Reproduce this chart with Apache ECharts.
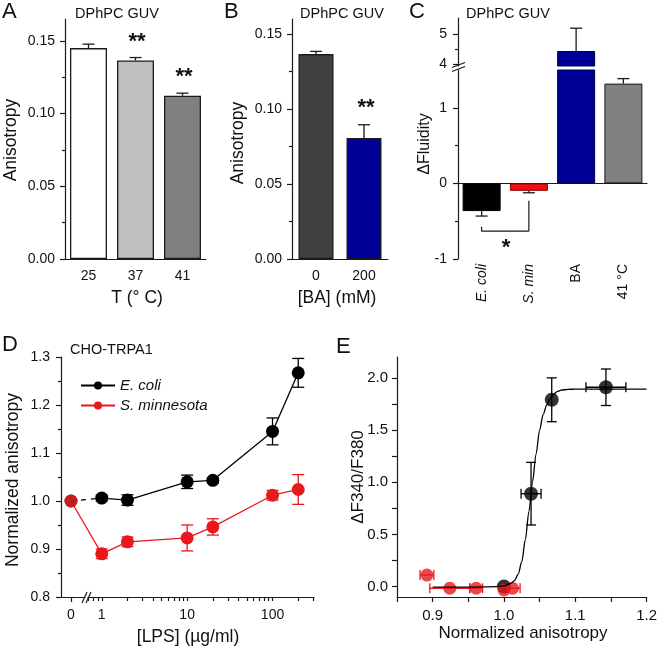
<!DOCTYPE html>
<html><head><meta charset="utf-8">
<script src="https://cdn.jsdelivr.net/npm/echarts@6/dist/echarts.min.js"></script>
<style>html,body{margin:0;padding:0;background:#fff}#c{width:660px;height:646px}</style>
</head><body><div id="c"></div>
<script>
// ---------- DATA ----------
// Panel A
const aCats = ['25', '37', '41'];
const aVals = [0.145, 0.1365, 0.1122];
const aErr = [0.0027, 0.002, 0.0018];
// Panel B
const bCats = ['0', '200'];
const bVals = [0.1366, 0.0806];
const bErr = [0.0018, 0.0089];
// Panel C
const cCats = ['E. coli', 'S. min', 'BA', '41 °C'];
const cVals = [-0.366, -0.098, 4.44, 1.32];
const cErr = [0.066, 0.026, 0.76, 0.066];
const bracketX = ['E. coli', 'E. coli', 'S. min', 'S. min'];
const bracketY = [-0.574, -0.631, -0.631, -0.23];
// Panel D
const lpsX = [1, 2, 10, 20, 100, 200];
const ecoli = [1.006, 1.002, 1.040, 1.043, 1.145, 1.267];
const ecoliErr = [0.006, 0.011, 0.014, 0.005, 0.028, 0.030];
const smin = [0.890, 0.915, 0.923, 0.946, 1.012, 1.024];
const sminErr = [0.010, 0.010, 0.027, 0.017, 0.010, 0.031];
const ecoliZero = 1.0;
const sminZero = 1.0;
// Panel E  [anisotropy, dF, xErr, yErr]
const eBlack = [[1.0, 0.0, 0, 0], [1.038, 0.89, 0.014, 0.30], [1.067, 1.79, 0, 0.21], [1.143, 1.91, 0.028, 0.175]];
const eRed = [[0.892, 0.11, 0.0097, 0], [0.924, -0.016, 0.028, 0], [0.961, -0.016, 0.009, 0], [1.0, -0.032, 0, 0], [1.012, -0.016, 0.0106, 0]];
const fitX = [0.9, 0.95, 0.99, 1.0, 1.01, 1.015, 1.02, 1.025, 1.03, 1.035, 1.04, 1.045, 1.05, 1.055, 1.06, 1.065, 1.07, 1.075, 1.08, 1.09, 1.1, 1.2];
const fitY = [-0.006, -0.005, 0.0, 0.008, 0.03, 0.06, 0.12, 0.24, 0.45, 0.72, 1.0, 1.27, 1.5, 1.65, 1.74, 1.80, 1.845, 1.87, 1.882, 1.89, 1.892, 1.892];
// tick labels
const aTicks = [0, 0.05, 0.1, 0.15], aMinor = [0.025, 0.075, 0.125];
const cUpTicks = [4, 5], cUpMinor = [4.5];
const cLoTicks = [-1, 0, 1], cLoMinor = [-0.5, 0.5];
const dYTicks = [0.8, 0.9, 1.0, 1.1, 1.2, 1.3], dYMinor = [0.85, 0.95, 1.05, 1.15, 1.25];
const dXTicks = [1, 10, 100], dXMinor = [0.7, 0.8, 0.9, 2, 3, 4, 5, 6, 7, 8, 9, 20, 30, 40, 50, 60, 70, 80, 90, 200, 300];
const eXTicks = [0.85, 0.9, 0.95, 1.0, 1.05, 1.1, 1.15, 1.2], eXLabels = [0.9, 1.0, 1.1, 1.2];
const eYTicks = [0, 0.25, 0.5, 0.75, 1.0, 1.25, 1.5, 1.75, 2.0], eYLabels = [0, 0.5, 1.0, 1.5, 2.0];

// ---------- STYLE ----------
const FONT = 'Arial, "Liberation Sans", Helvetica, sans-serif';
const AX = '#1a1a1a';
const TXT = '#111';
const RED = '#e8191e';

function axLine(show, onZero) { return { show: show, onZero: !!onZero, lineStyle: { color: AX, width: 1.2 } }; }
function valAxis(o) {
  return {
    type: o.type || 'value', gridIndex: o.g, min: o.min, max: o.max, position: o.pos || 'left',
    show: o.show === undefined ? true : o.show,
    axisLine: axLine(!o.noLine, false),
    axisTick: o.ticks ? { show: true, length: o.len || 5, inside: false, customValues: o.ticks, lineStyle: { color: AX, width: 1.2 } } : { show: false },
    axisLabel: o.labels ? { show: true, customValues: o.labels, formatter: o.fmt, margin: o.margin || 10, fontSize: o.fs || 14, color: TXT, fontFamily: FONT } : { show: false },
    splitLine: { show: false }, minorTick: { show: false }, minorSplitLine: { show: false }
  };
}
function catAxis(g, data, o) {
  o = o || {};
  return {
    type: 'category', gridIndex: g, data: data, position: 'bottom', show: o.show === undefined ? true : o.show,
    axisLine: axLine(!o.noLine, o.onZero), axisTick: { show: false },
    axisLabel: o.noLabel ? { show: false } : {
      show: true, margin: o.margin || 10, fontSize: 14, color: TXT, fontFamily: FONT, rotate: o.rotate || 0,
      formatter: o.rich ? (v => v.indexOf('.') >= 0 ? '{i|' + v + '}' : '{n|' + v + '}') : undefined,
      rich: o.rich ? { i: { fontStyle: 'italic', fontSize: 14, fontFamily: FONT, color: TXT }, n: { fontSize: 14, fontFamily: FONT, color: TXT } } : undefined
    },
    splitLine: { show: false }
  };
}
function seg(x1, y1, x2, y2, color, w) { return { type: 'line', shape: { x1, y1, x2, y2 }, style: { stroke: color, lineWidth: w || 1.3 } }; }
function errOne(color, cap) {
  return (params, api) => {
    const x = api.value(0), y = api.value(1), e = api.value(2);
    const a = api.coord([x, y]), b = api.coord([x, y + e]);
    return { type: 'group', children: [seg(a[0], a[1], b[0], b[1], color), seg(b[0] - cap, b[1], b[0] + cap, b[1], color)] };
  };
}
function errSym(color, cap) {
  return (params, api) => {
    const x = api.value(0), y = api.value(1), e = api.value(2);
    const a = api.coord([x, y - e]), b = api.coord([x, y + e]);
    return { type: 'group', children: [seg(a[0], a[1], b[0], b[1], color), seg(a[0] - cap, a[1], a[0] + cap, a[1], color), seg(b[0] - cap, b[1], b[0] + cap, b[1], color)] };
  };
}
function errXY(color, cap) {
  return (params, api) => {
    const x = api.value(0), y = api.value(1), xe = api.value(2), ye = api.value(3);
    const ch = [];
    if (ye > 0) {
      const a = api.coord([x, y - ye]), b = api.coord([x, y + ye]);
      ch.push(seg(a[0], a[1], b[0], b[1], color), seg(a[0] - cap, a[1], a[0] + cap, a[1], color), seg(b[0] - cap, b[1], b[0] + cap, b[1], color));
    }
    if (xe > 0) {
      const a = api.coord([x - xe, y]), b = api.coord([x + xe, y]);
      ch.push(seg(a[0], a[1], b[0], b[1], color), seg(a[0], a[1] - cap, a[0], a[1] + cap, color), seg(b[0], b[1] - cap, b[0], b[1] + cap, color));
    }
    return { type: 'group', children: ch };
  };
}
function txt(x, y, text, size, o) {
  o = o || {};
  const al = o.align || 'center';
  return { type: 'text', x: x, y: y, rotation: o.rot || 0, z: 100, silent: true,
    style: { text: text, fontSize: size, fontFamily: FONT, fill: o.color || TXT, fontStyle: o.italic ? 'italic' : 'normal', fontWeight: o.bold ? 'bold' : 'normal',
      align: al, verticalAlign: 'middle', textAlign: al, textVerticalAlign: 'middle' } };
}

const aColors = ['#ffffff', '#c0c0c0', '#808080'];
const bColors = ['#404040', '#000099'];
const cColors = ['#000000', '#ee1111', '#000099', '#808080'];
const cBorders = ['#000000', '#8a0000', '#000040', '#1a1a1a'];
const R = Math.PI / 2;

const option = {
  animation: false,
  textStyle: { fontFamily: FONT },
  grid: [
    { left: 65, top: 19, width: 141, height: 240 },   // 0 A
    { left: 292, top: 19, width: 96, height: 240 },   // 1 B
    { left: 458, top: 18, width: 189, height: 48 },   // 2 C upper
    { left: 458, top: 70, width: 189, height: 189 },  // 3 C lower
    { left: 61, top: 357, width: 24, height: 240 },   // 4 D left (zero)
    { left: 88, top: 357, width: 226, height: 240 },  // 5 D log
    { left: 397, top: 357, width: 252, height: 240 }  // 6 E
  ],
  xAxis: [
    catAxis(0, aCats),                                                   // 0
    catAxis(1, bCats),                                                   // 1
    catAxis(2, cCats, { show: false }),                                  // 2
    catAxis(3, cCats, { noLine: true, rotate: 90, margin: 5, rich: true }), // 3
    Object.assign(catAxis(3, cCats, { onZero: true, noLabel: true }), { axisLine: { show: true, onZero: true, onZeroAxisIndex: 6, lineStyle: { color: AX, width: 1.2 } } }), // 4
    valAxis({ g: 4, min: -0.5, max: 0.7, ticks: [0], labels: [0], fmt: v => '0', margin: 11, pos: 'bottom' }), // 5
    valAxis({ type: 'log', g: 5, min: 0.69, max: 306, ticks: dXTicks.concat(dXMinor), len: 4, labels: dXTicks, fmt: v => String(Math.round(v)), margin: 11, pos: 'bottom' }), // 6
    valAxis({ g: 6, min: 0.85, max: 1.2, ticks: eXTicks, labels: eXLabels, fmt: v => v.toFixed(1), margin: 11, fs: 15, pos: 'bottom' }) // 7
  ],
  yAxis: [
    valAxis({ g: 0, min: 0, max: 0.165, ticks: aTicks, labels: aTicks, fmt: v => v.toFixed(2) }),   // 0
    valAxis({ g: 0, min: 0, max: 0.165, ticks: aMinor, len: 3, noLine: true }),                      // 1
    valAxis({ g: 1, min: 0, max: 0.16, ticks: aTicks, labels: aTicks, fmt: v => v.toFixed(2) }),    // 2
    valAxis({ g: 1, min: 0, max: 0.16, ticks: aMinor, len: 3, noLine: true }),                       // 3
    valAxis({ g: 2, min: 3.94, max: 5.54, ticks: cUpTicks, labels: cUpTicks, fmt: v => String(v), margin: 11 }), // 4
    valAxis({ g: 2, min: 3.94, max: 5.54, ticks: cUpMinor, len: 3, noLine: true }),                  // 5
    valAxis({ g: 3, min: -1, max: 1.5, ticks: cLoTicks, labels: cLoTicks, fmt: v => String(v), margin: 11 }), // 6
    valAxis({ g: 3, min: -1, max: 1.5, ticks: cLoMinor, len: 3, noLine: true }),                     // 7
    valAxis({ g: 4, min: 0.8, max: 1.3, ticks: dYTicks, labels: dYTicks, fmt: v => v.toFixed(1), margin: 11 }), // 8
    valAxis({ g: 4, min: 0.8, max: 1.3, ticks: dYMinor, len: 3, noLine: true }),                     // 9
    valAxis({ g: 5, min: 0.8, max: 1.3, show: false }),                                              // 10
    valAxis({ g: 6, min: -0.1, max: 2.2, ticks: eYTicks, labels: eYLabels, fmt: v => v.toFixed(1), margin: 9, fs: 15 }) // 11
  ],
  legend: {
    data: ['E. coli', 'S. minnesota'], orient: 'vertical', left: 75, top: 373, itemWidth: 34, itemHeight: 10, itemGap: 5,
    selectedMode: false, textStyle: { fontSize: 15, fontStyle: 'italic', fontFamily: FONT, color: TXT }
  },
  series: [
    // A
    { type: 'bar', xAxisIndex: 0, yAxisIndex: 0, barWidth: 37,
      data: aVals.map((v, i) => ({ value: v, itemStyle: { color: aColors[i], borderColor: AX, borderWidth: 1.3 } })) },
    { type: 'custom', xAxisIndex: 0, yAxisIndex: 0, renderItem: errOne(AX, 6), data: aVals.map((v, i) => [i, v, aErr[i]]) },
    // B
    { type: 'bar', xAxisIndex: 1, yAxisIndex: 2, barWidth: 35,
      data: bVals.map((v, i) => ({ value: v, itemStyle: { color: bColors[i], borderColor: AX, borderWidth: 1.3 } })) },
    { type: 'custom', xAxisIndex: 1, yAxisIndex: 2, renderItem: errOne(AX, 6), data: bVals.map((v, i) => [i, v, bErr[i]]) },
    // C upper
    { type: 'bar', xAxisIndex: 2, yAxisIndex: 4, barWidth: 38,
      data: cVals.map((v, i) => v > 3.94 ? ({ value: v, itemStyle: { color: cColors[i], borderColor: cBorders[i], borderWidth: 1 } }) : '-') },
    { type: 'custom', xAxisIndex: 2, yAxisIndex: 4, renderItem: errOne(AX, 6),
      data: cVals.map((v, i) => [i, v, cErr[i]]).filter(d => d[1] > 3.94) },
    // C lower
    { type: 'bar', xAxisIndex: 3, yAxisIndex: 6, barWidth: 38,
      data: cVals.map((v, i) => ({ value: v, itemStyle: { color: cColors[i], borderColor: cBorders[i], borderWidth: 1 } })) },
    { type: 'custom', xAxisIndex: 3, yAxisIndex: 6, renderItem: errOne(AX, 6),
      data: cVals.map((v, i) => [i, v, v < 0 ? -cErr[i] : cErr[i]]).filter(d => d[1] < 1.5) },
    { type: 'line', xAxisIndex: 3, yAxisIndex: 6, showSymbol: false, symbol: 'none',
      lineStyle: { color: AX, width: 1.2 }, data: bracketX.map((x, i) => [x, bracketY[i]]) },
    // D zero points
    { type: 'scatter', name: 'E. coli 0', xAxisIndex: 5, yAxisIndex: 8, symbolSize: 13, itemStyle: { color: '#000' }, data: [[0, ecoliZero]] },
    { type: 'scatter', name: 'S. minnesota 0', xAxisIndex: 5, yAxisIndex: 8, symbolSize: 13, itemStyle: { color: RED }, data: [[0, sminZero]] },
    // D log part
    { type: 'line', name: 'E. coli', xAxisIndex: 6, yAxisIndex: 10, symbol: 'circle', symbolSize: 13,
      itemStyle: { color: '#000' }, lineStyle: { color: '#000', width: 1.3 }, data: lpsX.map((x, i) => [x, ecoli[i]]) },
    { type: 'custom', xAxisIndex: 6, yAxisIndex: 10, renderItem: errSym('#000', 6), data: lpsX.map((x, i) => [x, ecoli[i], ecoliErr[i]]) },
    { type: 'line', name: 'S. minnesota', xAxisIndex: 6, yAxisIndex: 10, symbol: 'circle', symbolSize: 13,
      itemStyle: { color: RED }, lineStyle: { color: RED, width: 1.3 }, data: lpsX.map((x, i) => [x, smin[i]]) },
    { type: 'custom', xAxisIndex: 6, yAxisIndex: 10, renderItem: errSym(RED, 6), data: lpsX.map((x, i) => [x, smin[i], sminErr[i]]) },
    // E
    { type: 'custom', xAxisIndex: 7, yAxisIndex: 11, renderItem: errXY(RED, 5), data: eRed },
    { type: 'line', xAxisIndex: 7, yAxisIndex: 11, showSymbol: false, symbol: 'none', smooth: 0.3, smoothMonotone: 'x',
      lineStyle: { color: '#000', width: 1.3 }, data: fitX.map((x, i) => [x, fitY[i]]) },
    { type: 'custom', xAxisIndex: 7, yAxisIndex: 11, renderItem: errXY('#000', 5), data: eBlack },
    { type: 'scatter', xAxisIndex: 7, yAxisIndex: 11, symbolSize: 14, itemStyle: { color: '#000' }, data: eBlack.map(d => [d[0], d[1]]) },
    { type: 'scatter', xAxisIndex: 7, yAxisIndex: 11, symbolSize: 13, itemStyle: { color: RED }, data: eRed.map(d => [d[0], d[1]]) }
  ],
  graphic: [
    txt(2, 12, 'A', 22, { align: 'left' }),
    txt(224, 12, 'B', 22, { align: 'left' }),
    txt(409, 12, 'C', 22, { align: 'left' }),
    txt(2, 345, 'D', 22, { align: 'left' }),
    txt(336, 347, 'E', 22, { align: 'left' }),
    txt(117, 14, 'DPhPC GUV', 14.5),
    txt(342, 14, 'DPhPC GUV', 14.5),
    txt(508, 14, 'DPhPC GUV', 14.5),
    txt(70, 350, 'CHO-TRPA1', 14.5, { align: 'left' }),
    txt(137, 42, '**', 22, { bold: true }),
    txt(184, 77, '**', 22, { bold: true }),
    txt(366, 108, '**', 22, { bold: true }),
    txt(506, 248, '*', 22, { bold: true }),
    txt(11, 140, 'Anisotropy', 17.5, { rot: R }),
    txt(238, 143, 'Anisotropy', 17.5, { rot: R }),
    txt(425, 144, 'ΔFluidity', 16, { rot: R }),
    txt(13, 480, 'Normalized anisotropy', 17.5, { rot: R }),
    txt(358, 477, 'ΔF340/F380', 17, { rot: R }),
    txt(137, 298, 'T (° C)', 17.5),
    txt(337, 298, '[BA] (mM)', 17.5),
    txt(188, 637, '[LPS] (µg/ml)', 17.5),
    txt(523, 633, 'Normalized anisotropy', 17),
    // axis breaks
    seg(452, 67.5, 465, 62.5, AX, 1.2),
    seg(452, 71.5, 465, 66.5, AX, 1.2),
    seg(82, 603, 87, 592, AX, 1.2),
    seg(86, 603, 91, 592, AX, 1.2)
  ]
};

const chart = echarts.init(document.getElementById('c'), null, { renderer: 'canvas' });
chart.setOption(option);
// connectors between the zero point and the first log point (D)
const pb0 = chart.convertToPixel({ seriesIndex: 9 }, [0, ecoliZero]);
const pb1 = chart.convertToPixel({ seriesIndex: 11 }, [lpsX[0], ecoli[0]]);
const pr0 = chart.convertToPixel({ seriesIndex: 10 }, [0, sminZero]);
const pr1 = chart.convertToPixel({ seriesIndex: 13 }, [lpsX[0], smin[0]]);
option.graphic.push(
  { type: 'line', z: 1, shape: { x1: pb0[0], y1: pb0[1], x2: pb1[0], y2: pb1[1] }, style: { stroke: '#000', lineWidth: 1.3, lineDash: [5, 5] } },
  { type: 'line', z: 1, shape: { x1: pr0[0], y1: pr0[1], x2: pr1[0], y2: pr1[1] }, style: { stroke: RED, lineWidth: 1.3 } }
);
chart.setOption(option);
</script>
</body></html>
